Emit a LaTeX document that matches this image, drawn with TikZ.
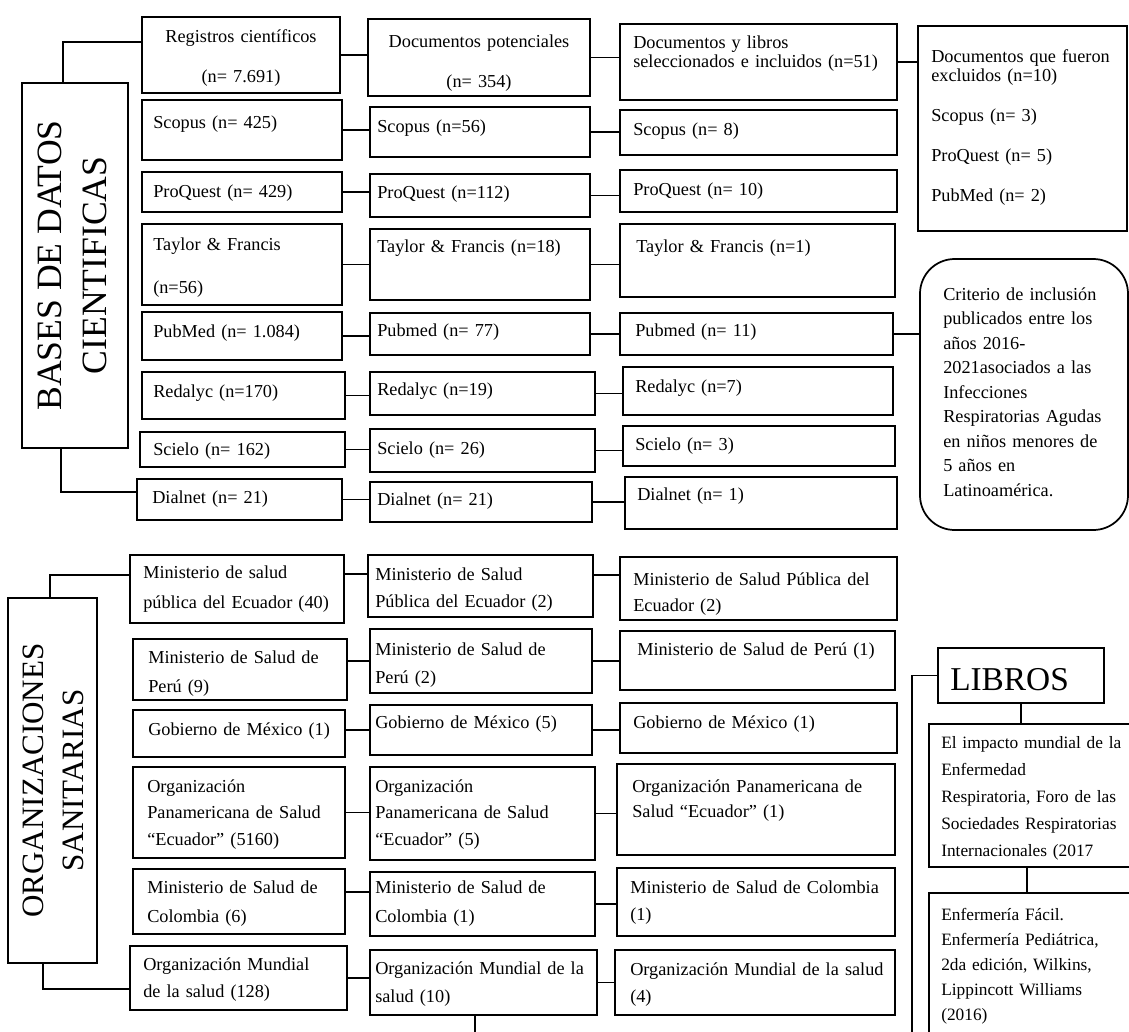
\documentclass[tikz,border=0pt]{standalone}
\usepackage{fontspec}
\setmainfont{Liberation Serif}
\usetikzlibrary{fit}

\tikzset{
  caja/.style={draw, line width=1.3pt, inner sep=0pt},
  texto/.style={anchor=base west, inner sep=0pt, align=left},
  centrado/.style={anchor=base, inner sep=0pt, align=center, font=\fontsize{13.7}{30}\selectfont},
  rotulo/.style={rotate=90, inner sep=0pt, align=center},
  linea/.style={line width=1.1pt}
}

\def\tamT{13.7}
% caja: nombre, x1, y1, x2, y2, x texto, base 1a linea, interlinea (px), texto
\newcommand{\caja}[9]{%
  \node[caja, fit={(#2,#3) (#4,#5)}] (#1) {};
  \pgfmathsetmacro{\anchoT}{(#4-#6-2)*0.75}%
  \pgfmathsetmacro{\saltoT}{#8*0.75}%
  \node[texto, text width=\anchoT pt, font=\fontsize{\tamT}{\saltoT}\selectfont] (#1-t) at (#6,#7) {#9};
}

\begin{document}
\begin{tikzpicture}[x=0.75pt, y=-0.75pt]
\useasboundingbox (0,0) rectangle (1129,1032);
\clip (0,0) rectangle (1129,1032);

% bases de datos
\node[caja, fit={(22,83) (128,448)}] (bases) {};
\node[rotulo, font=\fontsize{26.7}{33.75}\selectfont] (bases-t) at ([xshift=-2pt]bases.center) {BASES DE DATOS\\CIENTIFICAS};

\node[caja, fit={(142,17) (340,93)}] (regA) {};
\node[centrado, text width=142pt] (regA-t) at (241,42) {Registros científicos\\(n= 7.691)};
\caja{scoA}{142}{100}{342}{160}{153}{128}{25}{Scopus (n= 425)}
\caja{proA}{142}{172}{342}{212}{153}{197}{25}{ProQuest (n= 429)}
\caja{tayA}{142}{224}{342}{305}{153}{250}{43}{Taylor \& Francis\\(n=56)}
\caja{pubA}{142}{312}{342}{360}{153}{337}{25}{PubMed (n= 1.084)}
\caja{redA}{142}{372}{345}{419}{153}{397}{25}{Redalyc (n=170)}
\caja{sciA}{140}{432}{345}{467}{153}{455}{25}{Scielo (n= 162)}
\caja{diaA}{137}{479}{342}{520}{152}{503}{25}{Dialnet (n= 21)}

\node[caja, fit={(368,19) (590,96)}] (docB) {};
\node[centrado, text width=160pt] (docB-t) at (479,47) {Documentos potenciales\\(n= 354)};
\caja{scoB}{370}{107}{590}{157}{377}{132}{25}{Scopus (n=56)}
\caja{proB}{370}{174}{590}{217}{377}{198}{25}{ProQuest (n=112)}
\caja{tayB}{370}{229}{590}{300}{377}{252}{25}{Taylor \& Francis (n=18)}
\caja{pubB}{370}{313}{590}{355}{377}{336}{25}{Pubmed (n= 77)}
\caja{redB}{370}{372}{595}{415}{377}{395}{25}{Redalyc (n=19)}
\caja{sciB}{370}{429}{595}{472}{377}{454}{25}{Scielo (n= 26)}
\caja{diaB}{370}{482}{592}{522}{377}{505}{25}{Dialnet (n= 21)}

\caja{selC}{620}{24}{897}{100}{633}{48}{19}{Documentos y libros\\seleccionados e incluidos (n=51)}
\caja{scoC}{620}{110}{897}{155}{633}{135}{25}{Scopus (n= 8)}
\caja{proC}{620}{170}{897}{212}{633}{195}{25}{ProQuest (n= 10)}
\caja{tayC}{620}{224}{895}{297}{636}{252}{25}{Taylor \& Francis (n=1)}
\caja{pubC}{620}{313}{893}{355}{635}{336}{25}{Pubmed (n= 11)}
\caja{redC}{623}{367}{893}{415}{635}{392}{25}{Redalyc (n=7)}
\caja{sciC}{623}{426}{895}{466}{635}{450}{25}{Scielo (n= 3)}
\caja{diaC}{625}{477}{897}{529}{637}{500}{25}{Dialnet (n= 1)}

\caja{exC}{918}{26}{1127}{231}{931}{62}{19}{Documentos que fueron\\excluidos (n=10)\\[15.75pt]Scopus (n= 3)\\[15.75pt]ProQuest (n= 5)\\[15.75pt]PubMed (n= 2)}

\node[caja, rounded corners=26pt, fit={(920,259) (1128,530)}] (crC) {};
\node[texto, text width=135pt, font=\fontsize{13.7}{18.4}\selectfont] (crC-t) at (943,300) {Criterio de inclusión\\publicados entre los\\años 2016-\\2021asociados a las\\Infecciones\\Respiratorias Agudas\\en niños menores de\\5 años en\\Latinoamérica.};

% conectores de arriba
\draw[linea] ([xshift=-9pt]bases.north) |- ([yshift=9.75pt]regA.west);
\draw[linea] ([xshift=-10.5pt]bases.south) |- ([yshift=5.6pt]diaA.west);
\draw[linea] (regA.east) -- (regA.east -| docB.west);
\draw[linea] (docB.east) -- (docB.east -| selC.west);
\draw[linea] (selC.east) -- (selC.east -| exC.west);
\draw[linea] (pubC.east) -- (pubC.east -| crC.west);
\foreach \f in {sco,pro,tay,pub,red,sci,dia}{
  \draw[linea] (\f A.east) -- (\f A.east -| \f B.west);
  \draw[linea] (\f B.east) -- (\f B.east -| \f C.west);
}

% organizaciones sanitarias
\node[caja, fit={(8,598) (97,963)}] (org) {};
\node[rotulo, font=\fontsize{23.3}{30}\selectfont] (org-t) at ([xshift=1pt]org.center) {ORGANIZACIONES\\SANITARIAS};

\caja{ecuA}{130}{555}{344}{623}{143}{578}{30}{Ministerio de salud\\pública del Ecuador (40)}
\caja{perA}{133}{639}{347}{700}{148}{663}{29}{Ministerio de Salud de\\Perú (9)}
\caja{gobA}{133}{710}{345}{757}{148}{735}{25}{Gobierno de México (1)}
\caja{panA}{133}{767}{345}{858}{147}{792}{26.5}{Organización\\Panamericana de Salud\\“Ecuador” (5160)}
\caja{colA}{133}{869}{345}{934}{147}{893}{29}{Ministerio de Salud de\\Colombia (6)}
\caja{munA}{130}{946}{347}{1010}{143}{970}{27}{Organización Mundial\\de la salud (128)}

\caja{ecuB}{368}{555}{593}{617}{375}{580}{27}{Ministerio de Salud\\Pública del Ecuador (2)}
\caja{perB}{370}{629}{592}{693}{375}{655}{28}{Ministerio de Salud de\\Perú (2)}
\caja{gobB}{370}{705}{592}{755}{375}{728}{25}{Gobierno de México (5)}
\caja{panB}{370}{767}{595}{860}{375}{792}{26.5}{Organización\\Panamericana de Salud\\“Ecuador” (5)}
\caja{colB}{370}{872}{595}{936}{375}{893}{29}{Ministerio de Salud de\\Colombia (1)}
\caja{munB}{370}{950}{597}{1015}{375}{974}{28}{Organización Mundial de la\\salud (10)}

\caja{ecuC}{620}{557}{897}{620}{633}{585}{26}{Ministerio de Salud Pública del\\Ecuador (2)}
\caja{perC}{620}{631}{895}{690}{637}{655}{25}{Ministerio de Salud de Perú (1)}
\caja{gobC}{620}{703}{897}{753}{633}{728}{25}{Gobierno de México (1)}
\caja{panC}{617}{764}{895}{855}{632}{792}{25}{Organización Panamericana de\\Salud “Ecuador” (1)}
\caja{colC}{617}{868}{895}{936}{630}{893}{27}{Ministerio de Salud de Colombia\\(1)}
\caja{munC}{615}{950}{895}{1015}{630}{975}{27}{Organización Mundial de la salud\\(4)}

% libros
\node[caja, fit={(938,648) (1104,703)}] (libros) {};
\node[anchor=base west, inner sep=0pt, font=\fontsize{25}{30}\selectfont] (libros-t) at (950,690) {LIBROS};
{\def\tamT{13}
\caja{lib1}{929}{724}{1145}{867}{941}{748}{27}{El impacto mundial de la\\Enfermedad\\Respiratoria, Foro de las\\Sociedades Respiratorias\\Internacionales (2017}
\caja{lib2}{929}{893}{1145}{1060}{941}{920}{25}{Enfermería Fácil.\\Enfermería Pediátrica,\\2da edición, Wilkins,\\Lippincott Williams\\(2016)}
}

% conectores de abajo
\draw[linea] ([xshift=-1.9pt]org.north) |- ([yshift=10.5pt]ecuA.west);
\draw[linea] ([xshift=-7.1pt]org.south) |- ([yshift=-8.25pt]munA.west);
\draw[linea] ([yshift=11.25pt]ecuA.east) -- ([yshift=11.25pt]ecuA.east -| ecuB.west);
\draw[linea] ([yshift=8.25pt]ecuB.east) -- ([yshift=8.25pt]ecuB.east -| ecuC.west);
\draw[linea] (perB.west -| perA.east) -- (perB.west);
\draw[linea] (gobB.west -| gobA.east) -- (gobB.west);
\draw[linea] ([yshift=7.1pt]colA.east) -- ([yshift=7.1pt]colA.east -| colB.west);
\foreach \f in {pan,mun}
  \draw[linea] (\f A.east) -- (\f A.east -| \f B.west);
\foreach \f in {per,gob,pan,col,mun}
  \draw[linea] (\f B.east) -- (\f B.east -| \f C.west);

\coordinate (junta) at (912,1050);
\draw[linea] ([xshift=-6.4pt]munB.south) |- (junta) |- (libros.west);
\draw[linea] (libros.south) -- (libros.south |- lib1.north);
\draw[linea] ([xshift=-7.5pt]lib1.south) -- ([xshift=-7.5pt]lib1.south |- lib2.north);
\end{tikzpicture}
\end{document}
